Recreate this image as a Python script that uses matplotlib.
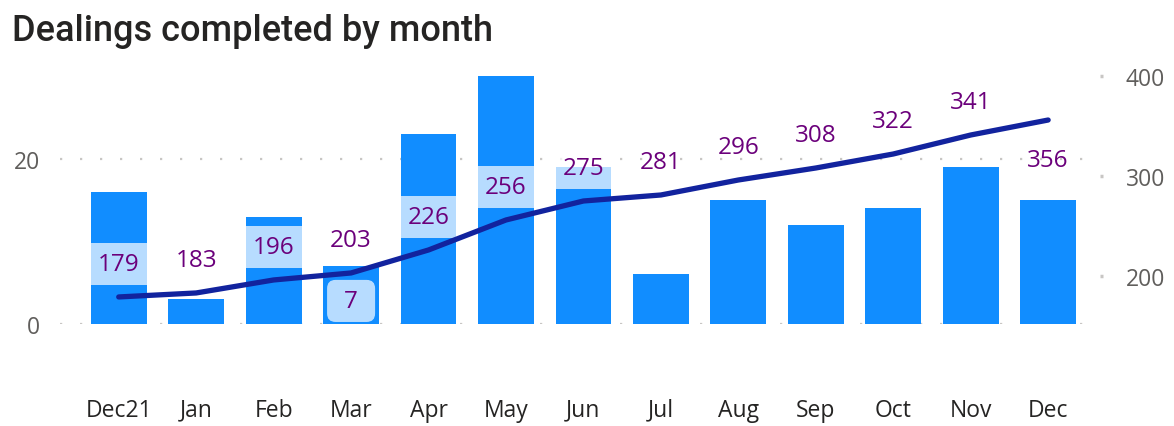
import matplotlib.pyplot as plt
from matplotlib.patches import FancyBboxPatch
import numpy as np

months = ['Dec21', 'Jan', 'Feb', 'Mar', 'Apr', 'May', 'Jun', 'Jul', 'Aug', 'Sep', 'Oct', 'Nov', 'Dec']
completed = [16, 3, 13, 7, 23, 30, 19, 6, 15, 12, 14, 19, 15]
cumulative = [179, 183, 196, 203, 226, 256, 275, 281, 296, 308, 322, 341, 356]
# only the Mar bar shows its own label in the original
bar_label_months = ['Mar']
# line labels that sit over a bar get the pale backing box
boxed_labels = ['Dec21', 'Feb', 'Apr', 'May', 'Jun']
# labels drawn under the line instead of above
below_labels = ['Dec']

bar_color = '#118DFF'
line_color = '#12239E'
label_color = '#6B007B'
grid_color = '#C8C6C4'
font = ['Open Sans', 'DejaVu Sans']

fig = plt.figure(figsize=(11.74, 4.27), dpi=100)
ax = fig.add_axes([0.051, 0.239, 0.886, 0.597])
ax2 = ax.twinx()

x = np.arange(len(months))
ax.bar(x, completed, width=0.72, color=bar_color, zorder=2)
ax.set_xlim(-0.76, 12.67)
ax.set_ylim(0, 30.9)
ax2.set_ylim(152, 407)

# dotted gridlines for the left axis
for v in [0, 20]:
    ax.axhline(v, color=grid_color, linestyle=(0, (1, 8)), linewidth=1.6, zorder=1)

ax.set_yticks([0, 20])
ax2.set_yticks([200, 300, 400])
ax.set_xticks(x)
ax.set_xticklabels(months, family=font, fontsize=16.5, color='#252423')
ax.tick_params(axis='x', length=0, pad=53)
ax.tick_params(axis='y', length=0, pad=14, labelsize=16.5, labelcolor='#605E5C')
ax2.tick_params(axis='y', length=2.5, width=2.5, color=grid_color, pad=16,
                labelsize=16.5, labelcolor='#605E5C')
for lab in ax.get_yticklabels() + ax2.get_yticklabels():
    lab.set_family(font)
for a in (ax, ax2):
    for s in a.spines.values():
        s.set_visible(False)

# line on the right axis, above the bars
ax.set_zorder(1)
ax2.set_zorder(2)
ax2.patch.set_visible(False)
ax2.plot(x, cumulative, color=line_color, linewidth=3.8, solid_capstyle='round', zorder=4)

# pale label boxes: ~42 units tall (right axis is about 1 px per unit), centred 33 above the point
for i, m in enumerate(months):
    if m in boxed_labels:
        ax2.bar(i, 42, bottom=cumulative[i] + 12, width=0.72, color='white', alpha=0.7,
                linewidth=0, zorder=3)
    dy = -29 if m in below_labels else 23.5
    ax2.annotate(str(cumulative[i]), (i, cumulative[i]), xytext=(0, dy),
                 textcoords='offset points', ha='center', va='center',
                 family=font, fontsize=17.5, color=label_color, zorder=5)

# rounded box behind the bar label (left axis ~8.25 px per unit, x ~77 px per unit)
for i, m in enumerate(months):
    if m in bar_label_months:
        box = FancyBboxPatch((i - 0.31, 0.24), 0.62, 5.1,
                             boxstyle='round,pad=0,rounding_size=0.11',
                             mutation_aspect=9.4, fc='white', ec='none', alpha=0.7, zorder=3)
        ax.add_patch(box)
        ax.annotate(str(completed[i]), (i, 0), xytext=(0, 16.5), textcoords='offset points',
                    ha='center', va='center', family=font, fontsize=17.5, color=label_color,
                    zorder=5)

fig.text(0.010, 0.905, 'Dealings completed by month', family=['Roboto', 'DejaVu Sans'],
         fontweight='medium', fontsize=26, color='#252423')

fig.savefig('out.png', dpi=100)
